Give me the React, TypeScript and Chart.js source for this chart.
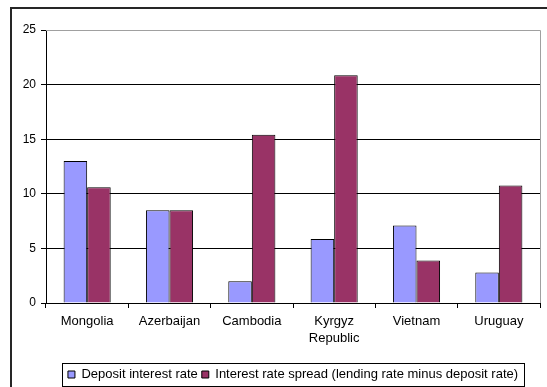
import React, { useEffect, useRef } from "react";
import { Chart, registerables } from "chart.js";

Chart.register(...registerables);

const categories: (string | string[])[] = [
  "Mongolia",
  "Azerbaijan",
  "Cambodia",
  ["Kyrgyz", "Republic"],
  "Vietnam",
  "Uruguay",
];
const depositRate = [13.0, 8.5, 2.0, 5.85, 7.1, 2.8];
const rateSpread = [10.6, 8.5, 15.4, 20.85, 3.9, 10.75];
const seriesNames = [
  "Deposit interest rate",
  "Interest rate spread (lending rate minus deposit rate)",
];
const yTicks = [0, 5, 10, 15, 20, 25];

const FONT = "'Liberation Sans', Arial, sans-serif";

const framePlugin = {
  id: "frames",
  beforeDatasetsDraw(chart: any) {
    const { ctx, chartArea } = chart;
    ctx.save();
    ctx.strokeStyle = "#a0a0a0";
    ctx.lineWidth = 1;
    ctx.beginPath();
    ctx.moveTo(chartArea.left, Math.round(chartArea.top) + 0.5);
    ctx.lineTo(Math.round(chartArea.right) + 0.5, Math.round(chartArea.top) + 0.5);
    ctx.lineTo(Math.round(chartArea.right) + 0.5, chartArea.bottom);
    ctx.stroke();
    ctx.restore();
  },
  afterDraw(chart: any) {
    const { ctx } = chart;
    ctx.save();
    // outer chart border
    ctx.strokeStyle = "#262626";
    ctx.lineWidth = 2;
    ctx.beginPath();
    ctx.moveTo(11, 400);
    ctx.lineTo(11, 8);
    ctx.lineTo(560, 8);
    ctx.stroke();
    // legend frame
    const lg = chart.legend;
    if (lg && lg.legendHitBoxes && lg.legendHitBoxes.length) {
      const boxes = lg.legendHitBoxes;
      let l = Infinity, r = -Infinity;
      for (const b of boxes) {
        l = Math.min(l, b.left);
        r = Math.max(r, b.left + b.width);
      }
      const cy = boxes[0].top + boxes[0].height / 2;
      ctx.strokeStyle = "#000";
      ctx.lineWidth = 1;
      ctx.strokeRect(Math.round(l - 6) + 0.5, Math.round(cy - 11.5) + 0.5, Math.round(r - l + 12), 23);
    }
    ctx.restore();
  },
};

export default function App() {
  const ref = useRef<HTMLCanvasElement | null>(null);
  useEffect(() => {
    if (!ref.current) return;
    const chart = new Chart(ref.current, {
      type: "bar",
      data: {
        labels: categories,
        datasets: [
          {
            label: seriesNames[0],
            data: depositRate,
            backgroundColor: "#9999ff",
            borderColor: "#000",
            borderWidth: 1,
          },
          {
            label: seriesNames[1],
            data: rateSpread,
            backgroundColor: "#993366",
            borderColor: "#000",
            borderWidth: 1,
          },
        ],
      },
      options: {
        responsive: false,
        animation: false,
        layout: { padding: { left: 0, right: 7, top: 30, bottom: -4 } },
        datasets: {
          bar: { categoryPercentage: 0.572, barPercentage: 1 },
        },
        plugins: {
          tooltip: { enabled: false },
          legend: {
            position: "bottom",
            fullSize: false,
            labels: {
              font: { family: FONT, size: 13 },
              color: "#000",
              boxWidth: 7,
              boxHeight: 7,
              padding: 4,
            },
          },
        },
        scales: {
          x: {
            afterFit: (s: any) => {
              s.height = 61;
            },
            grid: {
              offset: true,
              drawOnChartArea: false,
              drawTicks: true,
              tickLength: 5,
              color: "#000",
            },
            border: { color: "#000", width: 1 },
            ticks: {
              font: { family: FONT, size: 13, lineHeight: 1.3 },
              color: "#000",
              padding: 5,
              maxRotation: 0,
              autoSkip: false,
            },
          },
          y: {
            min: 0,
            max: 25,
            afterFit: (s: any) => {
              s.width = 46;
            },
            afterBuildTicks: (s: any) => {
              s.ticks = yTicks.map((v) => ({ value: v }));
            },
            grid: { color: "#000", tickLength: 5, drawTicks: true },
            border: { color: "#000", width: 1 },
            ticks: {
              font: { family: FONT, size: 12 },
              color: "#000",
              padding: 5,
            },
          },
        },
      },
      plugins: [framePlugin],
    });
    return () => chart.destroy();
  }, []);
  return (
    <div style={{ position: "fixed", left: 0, top: 0, width: 547, height: 387, background: "#fff" }}>
      <canvas ref={ref} width={547} height={387} style={{ display: "block" }} />
    </div>
  );
}
